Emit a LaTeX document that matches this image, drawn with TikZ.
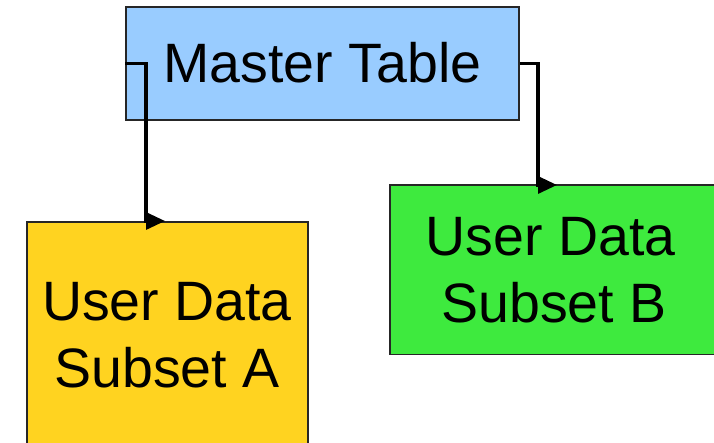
\documentclass[tikz,border=0pt]{standalone}
\usepackage{fontspec}
\setmainfont{Liberation Sans}
\usetikzlibrary{arrows.meta}
\definecolor{mastercol}{RGB}{153,204,255}
\definecolor{subsetA}{RGB}{255,211,32}
\definecolor{subsetB}{RGB}{62,234,62}
\tikzset{
  box/.style={draw=black!85, line width=1.6pt, rectangle, inner sep=0pt},
  label/.style={font=\fontsize{55.5}{66.5}\selectfont, align=center, text=black},
  conn/.style={draw=black, line width=3.2pt, line join=miter,
               -{Triangle[length=19pt,width=17pt]}},
}
\begin{document}
\begin{tikzpicture}[x=1pt,y=-1pt]
  \useasboundingbox (0,0) rectangle (714,443);
  \clip (0,0) rectangle (714,443);
  \fill[white] (0,0) rectangle (714,443);

  % boxes
  \node[box, fill=mastercol, minimum width=393pt, minimum height=113pt] (master) at (322.5,63.5) {};
  \node[box, fill=subsetA, minimum width=281pt, minimum height=260pt, anchor=north west] (ya) at (26,221) {};
  \node[box, fill=subsetB, minimum width=325pt, minimum height=169pt, anchor=north west] (gb) at (389,184.5) {};

  % texts (base anchor sits on the last line)
  \node[label, anchor=base] (tm) at (322.5,83) {Master Table};
  \node[label, anchor=base] (ta) at (167,387) {User Data\\Subset A};
  \node[label, anchor=base] (tb) at (554,322) {User Data\kern7pt\\Subset B};

  % connectors
  \coordinate (ka) at (146,221);
  \coordinate (kb) at (538,185);
  \draw[conn] (master.west) -| (ka) -- ++(19,0);
  \draw[conn] (master.east) -| (kb) -- ++(19,0);
\end{tikzpicture}
\end{document}
